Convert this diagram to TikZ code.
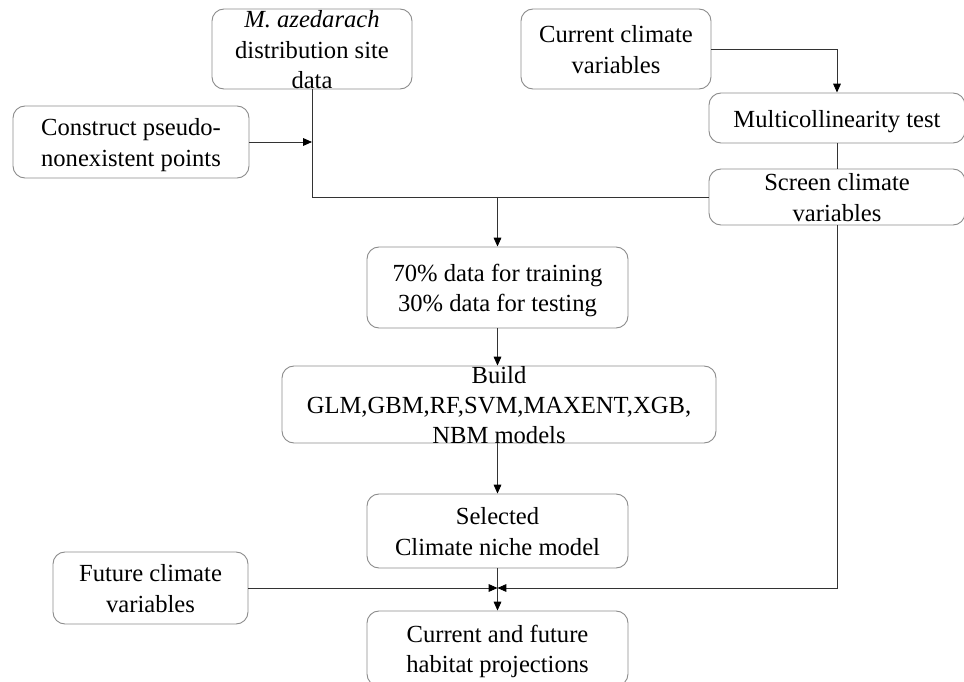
\documentclass[tikz,border=0pt]{standalone}
\usepackage{fontspec}
\setmainfont{Liberation Serif}
\usepackage{tikz}
\usetikzlibrary{arrows.meta}
\newcommand{\boxlines}[1]{\vbox to 0pt{\kern5pt\vss\hbox{\begin{tabular}{@{}c@{}}#1\end{tabular}}\vss}}
\tikzset{stepbox/.style={draw=black!45,line width=0.8pt,rounded corners=0.36cm,
		inner sep=0pt,font={\fontsize{21}{26}\selectfont}},
	link/.style={draw=black!80,line width=0.75pt}}
\begin{document}
\begin{tikzpicture}[x=0.03cm,y=-0.03cm]
		\clip (0,0) rectangle (964,682);
		\begin{scope}[every node/.style={stepbox}]
			\node[minimum width=6cm,minimum height=2.4cm] (site) at (312,49) {\boxlines{\textit{M. azedarach}\\distribution site\\data}};
			\node[minimum width=7.08cm,minimum height=2.16cm] (pseudo) at (131,142) {\boxlines{Construct pseudo-\\nonexistent points}};
			\node[minimum width=5.7cm,minimum height=2.4cm] (curclim) at (616,49) {\boxlines{Current climate\\variables}};
			\node[minimum width=7.68cm,minimum height=1.5cm] (multi) at (837,118) {\boxlines{Multicollinearity test}};
			\node[minimum width=7.68cm,minimum height=1.68cm] (screen) at (837,197) {\boxlines{Screen climate\\variables}};
			\node[minimum width=7.83cm,minimum height=2.43cm] (split) at (497.5,287.5) {\boxlines{70\% data for training\\30\% data for testing}};
			\node[minimum width=13.02cm,minimum height=2.31cm] (build) at (499,404.5) {\boxlines{Build\\GLM,GBM,RF,SVM,MAXENT,XGB,\\NBM models}};
			\node[minimum width=7.83cm,minimum height=2.22cm] (select) at (497.5,531) {\boxlines{Selected\\Climate niche model}};
			\node[minimum width=5.85cm,minimum height=2.16cm] (future) at (150.5,588) {\boxlines{Future climate\\variables}};
			\node[minimum width=7.83cm,minimum height=2.25cm] (proj) at (497.5,648.5) {\boxlines{Current and future\\habitat projections}};
		\end{scope}
		\coordinate (join) at (select.south |- future.east);
		\coordinate (fork) at (split.north |- screen.west);
		\begin{scope}[>={Triangle[black,length=7.5pt,width=6.5pt]},
			every edge/.style={link}]
			\draw[link] (site.south) |- (screen.west);
			\draw[link,->] (curclim.east) -| (multi.north);
			\draw[link,->] (screen.south) |- (join);
			\path (multi) edge (screen);
			\path [->] (pseudo.east) edge (pseudo.east -| site.south);
			\path [->] (fork) edge (split.north);
			\path [->] (split.south) edge (split.south |- build.north);
			\path [->] (select.north |- build.south) edge (select.north);
			\path (select) edge (join);
			\path [->] (future) edge (join);
			\path [->] (join) edge (proj);
		\end{scope}
	\end{tikzpicture}
\end{document}
